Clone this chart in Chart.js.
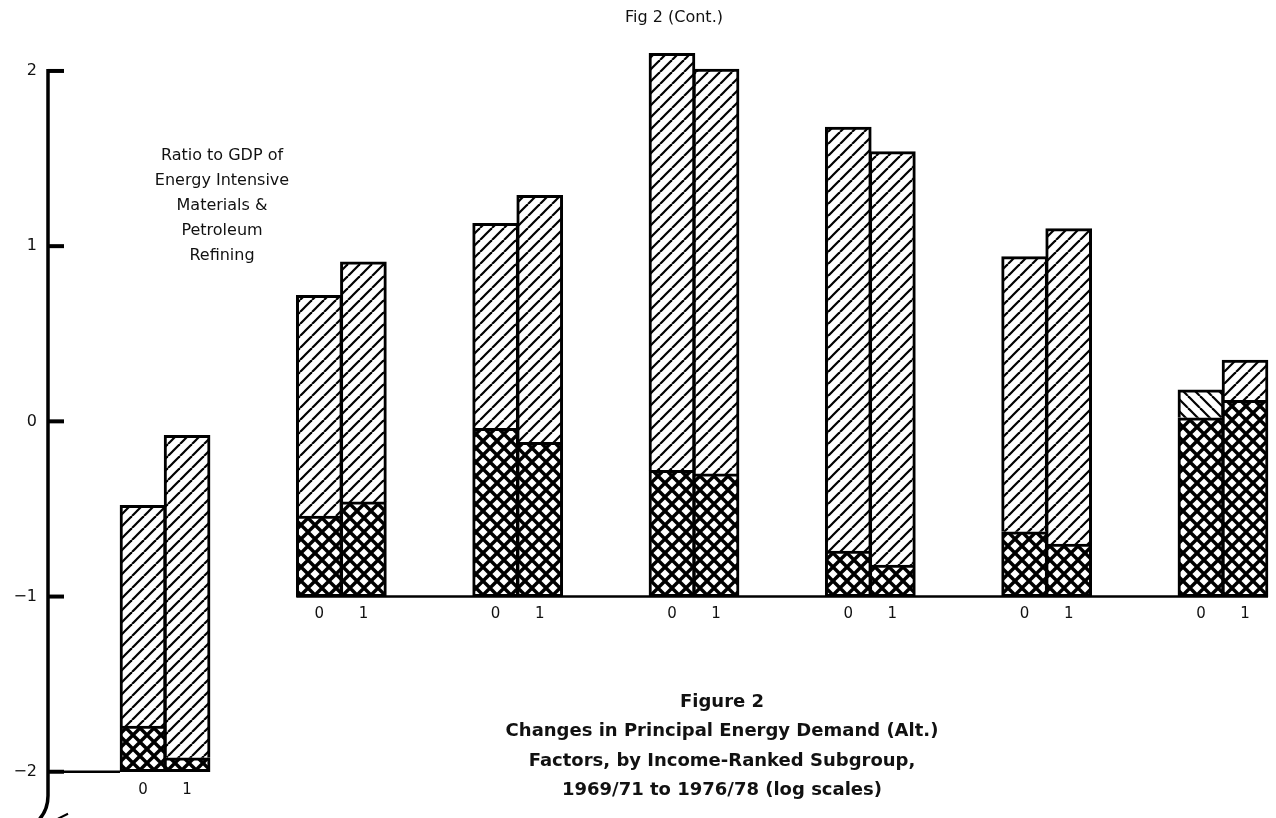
<!DOCTYPE html>
<html>
<head>
<meta charset="utf-8">
<title>Fig 2 (Cont.)</title>
<script src="https://cdn.jsdelivr.net/npm/chart.js@4.4.7/dist/chart.umd.min.js"></script>
<style>
  html, body { margin: 0; padding: 0; background: #fff; }
  #wrap { width: 1276px; height: 818px; }
</style>
</head>
<body>
<div id="wrap"><canvas id="chart" width="1276" height="818"></canvas></div>
<script>
// two bars per income-ranked subgroup
const periods = ['0', '1'];
// log value each subgroup's bars start from
const baseValues = [-2, -1, -1, -1, -1, -1, -1];
// top of the cross-hatched segment (period 0 / period 1)
const crossTop0 = [-1.74, -0.54, -0.04, -0.28, -0.74, -0.63, 0.02];
const crossTop1 = [-1.92, -0.46, -0.12, -0.30, -0.82, -0.70, 0.12];
// top of the diagonal-hatched segment (period 0 / period 1)
const hatchTop0 = [-0.48, 0.72, 1.13, 2.10, 1.68, 0.94, 0.18];
const hatchTop1 = [-0.08, 0.91, 1.29, 2.01, 1.54, 1.10, 0.35];
const yTicks = [2, 1, 0, -1, -2];

const sideNote = ['Ratio to GDP of', 'Energy Intensive', 'Materials &', 'Petroleum', 'Refining'];
const caption = [
  'Figure 2',
  'Changes in Principal Energy Demand (Alt.)',
  'Factors, by Income-Ranked Subgroup,',
  '1969/71 to 1976/78 (log scales)'
];

const FONT = '"DejaVu Sans", sans-serif';
const canvas = document.getElementById('chart');
const ctx2d = canvas.getContext('2d');

// hatch fills drawn on small tiles
function tile(size, width, dirs) {
  const c = document.createElement('canvas');
  c.width = c.height = size;
  const g = c.getContext('2d');
  g.fillStyle = '#fff';
  g.fillRect(0, 0, size, size);
  g.strokeStyle = '#000';
  g.lineWidth = width;
  for (const d of dirs) {
    for (const o of [-size, 0, size]) {
      g.beginPath();
      if (d === '/') { g.moveTo(o, size); g.lineTo(o + size, 0); }
      else { g.moveTo(o, 0); g.lineTo(o + size, size); }
      g.stroke();
    }
  }
  return ctx2d.createPattern(c, 'repeat');
}
const slashFill = tile(12, 2.2, ['/']);
const backFill = tile(12, 2.2, ['\\']);
const crossFill = tile(14, 3.4, ['/', '\\']);

// bar slot on the x scale: four slots per subgroup
const slot = (g, p) => g * 4 + p;

const crossData = [];
const hatchData = [];
baseValues.forEach((base, g) => {
  crossData.push({ x: slot(g, 0), y: [base, crossTop0[g]] });
  crossData.push({ x: slot(g, 1), y: [base, crossTop1[g]] });
  hatchData.push({ x: slot(g, 0), y: [crossTop0[g], hatchTop0[g]] });
  hatchData.push({ x: slot(g, 1), y: [crossTop1[g], hatchTop1[g]] });
});

const frame = {
  id: 'frame',
  beforeDatasetsDraw(chart) {
    const { ctx, scales: { x, y } } = chart;
    const ax = 48;
    const half = 23;
    ctx.save();
    ctx.strokeStyle = '#000';
    ctx.lineCap = 'butt';

    // vertical axis, curling off at the foot
    const yBot = y.getPixelForValue(-2);
    ctx.lineWidth = 3.5;
    ctx.beginPath();
    ctx.moveTo(ax, y.getPixelForValue(2) - 2);
    ctx.lineTo(ax, yBot + 24);
    ctx.quadraticCurveTo(ax, yBot + 38, ax - 9, yBot + 48);
    ctx.stroke();
    ctx.lineWidth = 2;
    ctx.beginPath();
    ctx.moveTo(ax + 10, yBot + 47);
    ctx.lineTo(ax + 20, yBot + 42);
    ctx.stroke();

    // inward tick marks
    ctx.lineWidth = 4;
    yTicks.forEach(v => {
      const py = y.getPixelForValue(v);
      ctx.beginPath();
      ctx.moveTo(ax, py);
      ctx.lineTo(ax + 16, py);
      ctx.stroke();
    });

    // base lines under the bars
    ctx.lineWidth = 2.6;
    const py2 = y.getPixelForValue(baseValues[0]);
    ctx.beginPath();
    ctx.moveTo(ax + 16, py2);
    ctx.lineTo(x.getPixelForValue(slot(0, 0)) - half, py2);
    ctx.stroke();
    const last = baseValues.length - 1;
    const py1 = y.getPixelForValue(baseValues[1]);
    ctx.beginPath();
    ctx.moveTo(x.getPixelForValue(slot(1, 0)) - half, py1);
    ctx.lineTo(x.getPixelForValue(slot(last, 1)) + half, py1);
    ctx.stroke();
    ctx.restore();
  },
  afterDraw(chart) {
    const { ctx, scales: { x, y } } = chart;
    ctx.save();
    ctx.fillStyle = '#111';
    ctx.textBaseline = 'middle';

    // value labels on the axis
    ctx.font = '16px ' + FONT;
    ctx.textAlign = 'right';
    yTicks.forEach(v => {
      const txt = v < 0 ? '\u2212' + Math.abs(v) : String(v);
      ctx.fillText(txt, 37, y.getPixelForValue(v));
    });

    // period labels under each pair
    ctx.font = '15px ' + FONT;
    ctx.textAlign = 'center';
    baseValues.forEach((base, g) => {
      const py = y.getPixelForValue(base) + 18;
      periods.forEach((p, i) => ctx.fillText(p, x.getPixelForValue(slot(g, i)), py));
    });

    ctx.font = '16px ' + FONT;
    ctx.fillText('Fig 2 (Cont.)', 674, 18);

    ctx.font = '16px ' + FONT;
    sideNote.forEach((line, i) => ctx.fillText(line, 222, 156 + i * 25));

    ctx.font = 'bold 18px ' + FONT;
    caption.forEach((line, i) => ctx.fillText(line, 722, 702 + i * 29.5));
    ctx.restore();
  }
};

new Chart(canvas, {
  type: 'bar',
  data: {
    datasets: [
      {
        label: 'cross-hatched',
        data: crossData,
        backgroundColor: crossFill,
        borderWidth: 3
      },
      {
        label: 'hatched',
        data: hatchData,
        // the last subgroup's period-0 segment is hatched the other way
        backgroundColor: c => (c.dataIndex === slot(6, 0) / 2 ? backFill : slashFill),
        borderWidth: { top: 3, left: 3, right: 3, bottom: 0 }
      }
    ]
  },
  options: {
    responsive: false,
    animation: false,
    layout: { padding: 0 },
    datasets: {
      bar: { grouped: false, barThickness: 46, borderColor: '#000', borderSkipped: false }
    },
    scales: {
      x: { type: 'linear', offset: false, min: -3.244, max: 25.703, display: false },
      y: { min: -2.264, max: 2.405, display: false }
    },
    plugins: { legend: { display: false }, tooltip: { enabled: false } }
  },
  plugins: [frame]
});
</script>
</body>
</html>
